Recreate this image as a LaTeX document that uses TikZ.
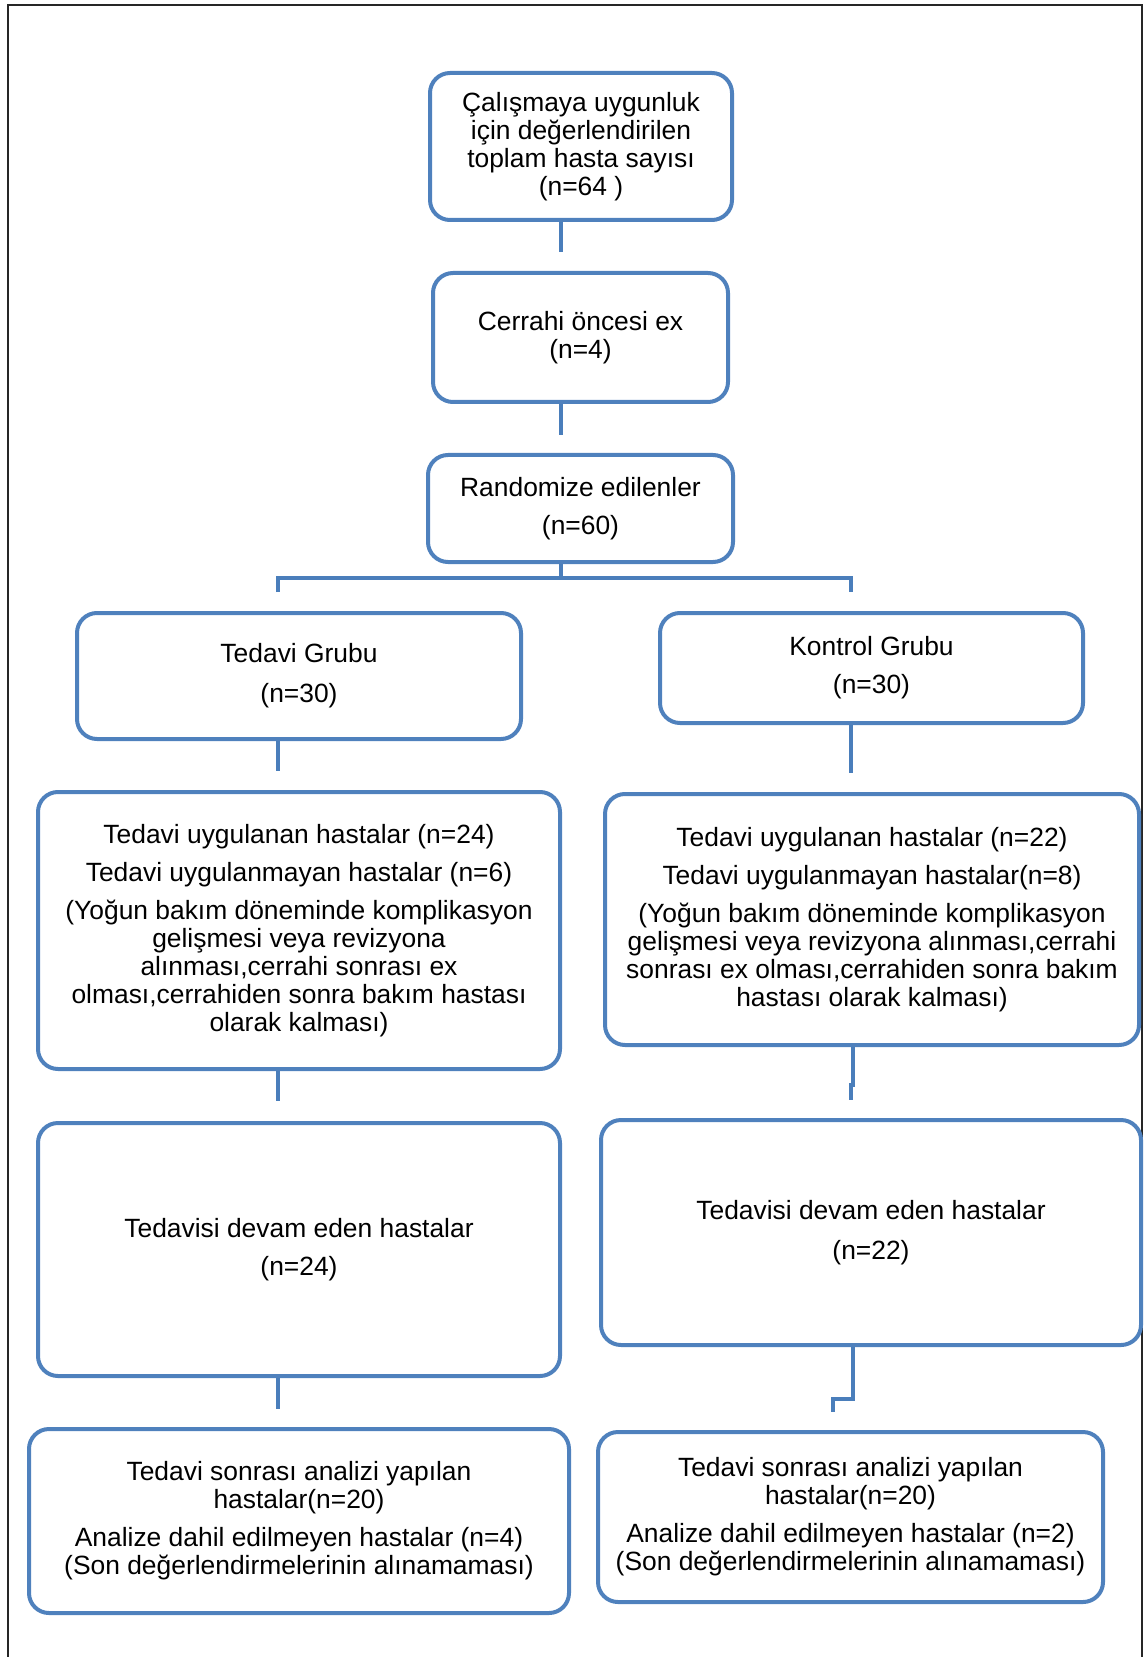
\documentclass[tikz,border=0pt]{standalone}
\usepackage{fontspec}
\setmainfont{Liberation Sans}
\usetikzlibrary{positioning}
\usetikzlibrary{calc}

\definecolor{boxblue}{RGB}{79,129,189}
\definecolor{linkblue}{RGB}{74,126,187}

\tikzset{
  flowbox/.style={draw=boxblue, line width=2pt, rounded corners=10pt, align=center,
    inner sep=0pt, font=\fontsize{13.2}{14}\selectfont},
  link/.style={draw=linkblue, line width=2pt}
}

\begin{document}
\begin{tikzpicture}[x=0.5pt, y=-0.5pt]

        % page and frame
        \useasboundingbox (0,0) rectangle (1144,1657);
        \draw[line width=1pt, black!85] (8,1657) -- (8,5) -- (1142,5) -- (1142,1657);

        % connector columns
        \coordinate (midcol) at (561,0);
        \coordinate (lcol) at (278,0);
        \coordinate (rcol) at (853,0);
        \coordinate (barL) at (278,578);
        \coordinate (barR) at (851,578);

        % top column
        \node[flowbox, minimum width=151pt, minimum height=73.5pt] (eval) at (581,146.5)
          {Çalışmaya uygunluk\\ için değerlendirilen\\ toplam hasta sayısı\\ (n=64 )};
        \node[flowbox, minimum width=147.5pt, minimum height=64.5pt] (exbox) at (580.5,337.5)
          {Cerrahi öncesi ex\\ (n=4)};
        \node[flowbox, minimum width=152.5pt, minimum height=53.5pt] (rand) at (580.5,508.5)
          {Randomize edilenler\\[5pt] (n=60)};

        % groups
        \node[flowbox, minimum width=222pt, minimum height=63pt] (tgrup) at (299,676)
          {Tedavi Grubu\\[6pt] (n=30)};
        \node[flowbox, minimum width=211.5pt, minimum height=55pt] (kgrup) at (871.5,668)
          {Kontrol Grubu\\[5pt] (n=30)};

        \node[flowbox, minimum width=261pt, minimum height=138.5pt] (tuyg) at (299,930.5)
          {Tedavi uygulanan hastalar (n=24)\\[5pt] Tedavi uygulanmayan hastalar (n=6)\\[5pt]
           (Yoğun bakım döneminde komplikasyon\\ gelişmesi veya revizyona\\
           alınması,cerrahi sonrası ex\\ olması,cerrahiden sonra bakım hastası\\ olarak kalması)};
        \node[flowbox, minimum width=267pt, minimum height=125.5pt] (kuyg) at (872,919.5)
          {Tedavi uygulanan hastalar (n=22)\\[5pt] Tedavi uygulanmayan hastalar(n=8)\\[5pt]
           (Yoğun bakım döneminde komplikasyon\\ gelişmesi veya revizyona alınması,cerrahi\\
           sonrası ex olması,cerrahiden sonra bakım\\ hastası olarak kalması)};

        \node[flowbox, minimum width=261pt, minimum height=126.5pt] (tdevam) at (299,1249.5)
          {Tedavisi devam eden hastalar\\[5pt] (n=24)};
        \node[flowbox, minimum width=270pt, minimum height=112.5pt] (kdevam) at (871,1232.5)
          {Tedavisi devam eden hastalar\\[6pt] (n=22)};

        \node[flowbox, minimum width=270pt, minimum height=92pt] (tanaliz) at (299,1521)
          {Tedavi sonrası analizi yapılan\\ hastalar(n=20)\\[5pt]
           Analize dahil edilmeyen hastalar (n=4)\\ (Son değerlendirmelerinin alınamaması)};
        \node[flowbox, minimum width=252.5pt, minimum height=85pt] (kanaliz) at (850.5,1517)
          {Tedavi sonrası analizi yapılan\\ hastalar(n=20)\\[5pt]
           Analize dahil edilmeyen hastalar (n=2)\\ (Son değerlendirmelerinin alınamaması)};

        % connectors
        \draw[link] (eval.south -| midcol) -- ++(0,30);
        \draw[link] (exbox.south -| midcol) -- ++(0,31);
        \draw[link] (rand.south -| midcol) -- (midcol |- barL);
        \draw[link] ($(barL)+(0,14)$) -- (barL) -- (barR) -- ($(barR)+(0,14)$);

        \draw[link] (tgrup.south -| lcol) -- ++(0,30);
        \draw[link] (tuyg.south -| lcol) -- ++(0,30);
        \draw[link] (tdevam.south -| lcol) -- ++(0,31);

        \draw[link] (kgrup.south -| barR) -- ++(0,48);
        \draw[link] (kuyg.south -| rcol) -- ++(0,38) -- ++(-2,0) -- ++(0,15);
        \draw[link] (kdevam.south -| rcol) -- ++(0,52) -- ++(-20,0) -- ++(0,13);

    \end{tikzpicture}
\end{document}
